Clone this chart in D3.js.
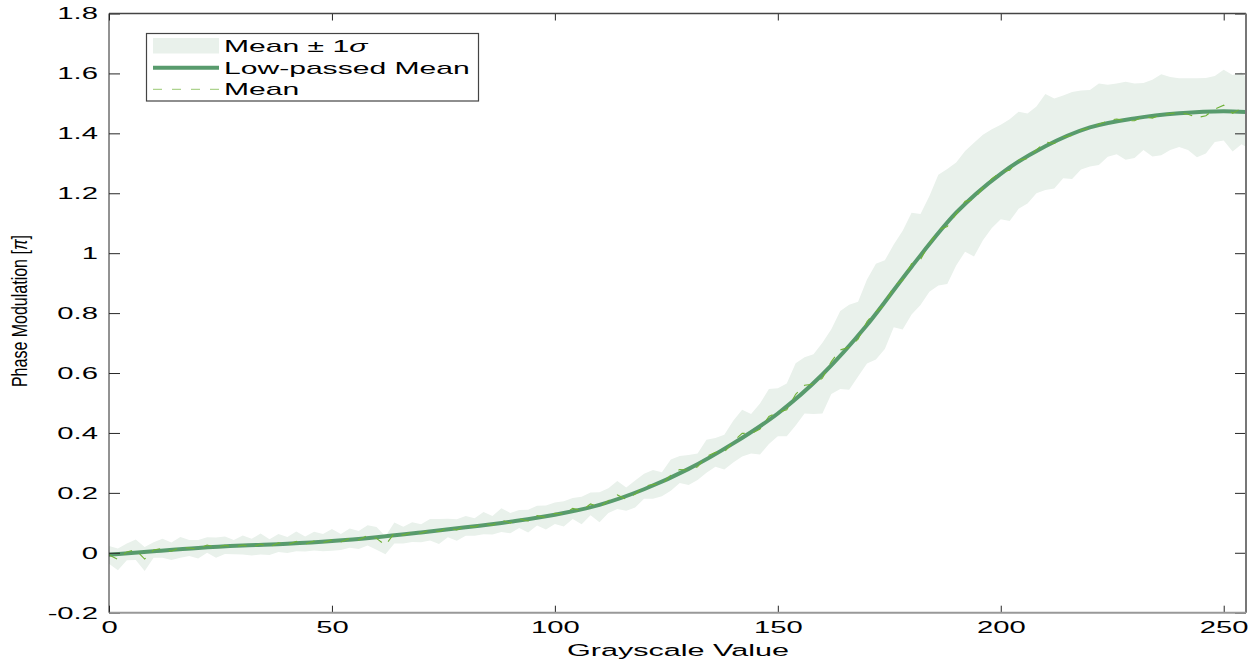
<!DOCTYPE html>
<html>
<head>
<meta charset="utf-8">
<script src="https://cdn.jsdelivr.net/npm/d3@7"></script>
<style>
  html, body { margin: 0; padding: 0; background: #fff; }
  svg { display: block; font-family: "Liberation Sans", Arial, sans-serif; }
</style>
</head>
<body>
<svg id="chart" width="1257" height="664"></svg>
<script>
// grayscale levels of the measured curve (every 2nd level, plus the last one)
const grayscale = d3.range(0, 256, 2).concat([255]);

// measured mean phase modulation, in units of pi
const meanPhase = [
  -0.007, -0.022, 0.003, 0.010, -0.021, 0.009, 0.015, 0.005, 0.018, 0.016,
  0.012, 0.026, 0.017, 0.025, 0.019, 0.026, 0.019, 0.029, 0.019, 0.033,
  0.026, 0.038, 0.029, 0.039, 0.034, 0.043, 0.036, 0.049, 0.043, 0.058,
  0.048, 0.025, 0.066, 0.059, 0.069, 0.065, 0.077, 0.071, 0.083, 0.076,
  0.090, 0.086, 0.099, 0.092, 0.109, 0.099, 0.113, 0.106, 0.124, 0.118,
  0.132, 0.130, 0.148, 0.141, 0.163, 0.152, 0.174, 0.193, 0.179, 0.196,
  0.222, 0.228, 0.229, 0.259, 0.278, 0.276, 0.287, 0.322, 0.335, 0.336,
  0.371, 0.399, 0.397, 0.413, 0.455, 0.469, 0.477, 0.529, 0.559, 0.563,
  0.583, 0.638, 0.677, 0.686, 0.713, 0.772, 0.805, 0.828, 0.891, 0.910,
  0.965, 0.979, 1.031, 1.077, 1.089, 1.131, 1.173, 1.179, 1.219, 1.249,
  1.271, 1.277, 1.310, 1.316, 1.345, 1.371, 1.366, 1.388, 1.393, 1.411,
  1.417, 1.430, 1.442, 1.448, 1.442, 1.442, 1.456, 1.451, 1.462, 1.466,
  1.469, 1.464, 1.452, 1.459, 1.481, 1.494, 1.467, 1.484,
  1.470
];

// standard deviation at each level, in units of pi
const sigmaPhase = [
  0.030, 0.036, 0.028, 0.034, 0.040, 0.026, 0.032, 0.029, 0.035, 0.027,
  0.031, 0.026, 0.034, 0.029, 0.024, 0.032, 0.028, 0.035, 0.026, 0.030,
  0.027, 0.033, 0.025, 0.031, 0.029, 0.036, 0.027, 0.032, 0.030, 0.034,
  0.038, 0.030, 0.035, 0.028, 0.033, 0.030, 0.036, 0.042, 0.031, 0.036,
  0.033, 0.029, 0.037, 0.031, 0.040, 0.034, 0.030, 0.038, 0.033, 0.040,
  0.036, 0.042, 0.035, 0.046, 0.038, 0.050, 0.041, 0.047, 0.039, 0.045,
  0.042, 0.048, 0.040, 0.052, 0.045, 0.050, 0.044, 0.055, 0.048, 0.058,
  0.070, 0.078, 0.066, 0.085, 0.092, 0.080, 0.088, 0.104, 0.094, 0.100,
  0.118, 0.108, 0.130, 0.142, 0.125, 0.140, 0.160, 0.148, 0.138, 0.165,
  0.170, 0.152, 0.160, 0.185, 0.192, 0.172, 0.168, 0.190, 0.176, 0.165,
  0.158, 0.170, 0.162, 0.150, 0.145, 0.160, 0.150, 0.138, 0.145, 0.132,
  0.128, 0.136, 0.120, 0.118, 0.130, 0.124, 0.112, 0.128, 0.135, 0.122,
  0.115, 0.120, 0.132, 0.126, 0.110, 0.118, 0.128, 0.120,
  0.115
];

// low-passed mean, read at every 10th level
const lowPassLevels = [0, 10, 20, 30, 40, 50, 60, 70, 80, 90, 100, 110, 120, 130,
  140, 150, 160, 170, 180, 190, 200, 210, 220, 230, 240, 250, 255];
const lowPassPhase = [-0.007, 0.005, 0.016, 0.024, 0.030, 0.039, 0.052, 0.068, 0.085,
  0.104, 0.127, 0.160, 0.212, 0.280, 0.365, 0.465, 0.595, 0.760, 0.955, 1.135,
  1.265, 1.357, 1.420, 1.450, 1.467, 1.474, 1.471];

const xTicks = [0, 50, 100, 150, 200, 250];
const yTicks = [-0.2, 0, 0.2, 0.4, 0.6, 0.8, 1, 1.2, 1.4, 1.6, 1.8];
const yTickLabels = ['-0.2', '0', '0.2', '0.4', '0.6', '0.8', '1', '1.2', '1.4', '1.6', '1.8'];

const legendLabels = ['Mean \u00b1 1', 'Low-passed Mean', 'Mean'];

const BAND = '#e9f1eb';
const LOWPASS = '#589b6d';
const MEAN = '#6eb136';
const AXIS = '#262626';
// the figure was stretched sideways, so text is too
const STRETCH = 1.72;

const svg = d3.select('#chart');
const plotLeft = 109;
const plotRight = 1246;
const plotTop = 13.5;
const plotBottom = 612.7;

const x = d3.scaleLinear().domain([0, 255]).range([plotLeft, plotRight]);
const y = d3.scaleLinear().domain([-0.2, 1.8]).range([plotBottom, plotTop]);

const points = grayscale.map((g, i) => ({ g, m: meanPhase[i], s: sigmaPhase[i] }));

const plot = svg.append('g');
plot.append('clipPath').attr('id', 'clip')
  .append('rect')
  .attr('x', plotLeft).attr('y', plotTop)
  .attr('width', plotRight - plotLeft).attr('height', plotBottom - plotTop);

const inner = plot.append('g').attr('clip-path', 'url(#clip)');

// mean +/- 1 sigma band
inner.append('path')
  .datum(points)
  .attr('fill', BAND)
  .attr('d', d3.area()
    .x(d => x(d.g))
    .y0(d => y(d.m - d.s))
    .y1(d => y(d.m + d.s)));

// low-passed mean
inner.append('path')
  .datum(lowPassLevels.map((g, i) => [g, lowPassPhase[i]]))
  .attr('fill', 'none')
  .attr('stroke', LOWPASS)
  .attr('stroke-width', 4)
  .attr('d', d3.line().x(d => x(d[0])).y(d => y(d[1])).curve(d3.curveMonotoneX));

// raw mean, dashed on top
inner.append('path')
  .datum(points)
  .attr('fill', 'none')
  .attr('stroke', MEAN)
  .attr('stroke-width', 1.1)
  .attr('stroke-dasharray', '9,9')
  .attr('d', d3.line().x(d => x(d.g)).y(d => y(d.m)));

// put the stretched text back where the axis placed it
function stretchTicks(g, anchor) {
  g.selectAll('.tick text').each(function () {
    const t = d3.select(this);
    const tx = +t.attr('x') || 0;
    const ty = +t.attr('y') || 0;
    t.attr('x', 0).attr('y', 0)
      .attr('text-anchor', anchor)
      .attr('transform', `translate(${tx},${ty}) scale(${STRETCH},1)`);
  });
}

function styleAxis(g) {
  g.select('.domain').remove();
  g.selectAll('.tick line').attr('stroke', AXIS);
  g.selectAll('.tick text')
    .attr('fill', '#000')
    .style('font-size', '17px')
    .style('font-family', '"Liberation Sans", Arial, sans-serif');
}

svg.append('g')
  .attr('transform', `translate(0,${plotBottom})`)
  .call(d3.axisBottom(x).tickValues(xTicks).tickSizeInner(-7).tickSizeOuter(0).tickPadding(8))
  .call(styleAxis)
  .call(g => stretchTicks(g, 'middle'));

svg.append('g')
  .attr('transform', `translate(${plotLeft},0)`)
  .call(d3.axisLeft(y).tickValues(yTicks).tickFormat((d, i) => yTickLabels[i])
    .tickSizeInner(-11).tickSizeOuter(0).tickPadding(11))
  .call(styleAxis)
  .call(g => stretchTicks(g, 'end'));

svg.append('g')
  .attr('transform', `translate(0,${plotTop})`)
  .call(d3.axisTop(x).tickValues(xTicks).tickFormat('').tickSizeInner(-7).tickSizeOuter(0))
  .call(styleAxis);

svg.append('g')
  .attr('transform', `translate(${plotRight},0)`)
  .call(d3.axisRight(y).tickValues(yTicks).tickFormat('').tickSizeInner(-11).tickSizeOuter(0))
  .call(styleAxis);

// axes box
svg.append('line').attr('x1', plotLeft).attr('x2', plotRight).attr('y1', plotTop).attr('y2', plotTop)
  .attr('stroke', '#444').attr('stroke-width', 1.5);
svg.append('line').attr('x1', plotRight).attr('x2', plotRight).attr('y1', plotTop).attr('y2', plotBottom)
  .attr('stroke', '#777').attr('stroke-width', 2);
svg.append('line').attr('x1', plotLeft).attr('x2', plotRight).attr('y1', plotBottom).attr('y2', plotBottom)
  .attr('stroke', '#999').attr('stroke-width', 2);
svg.append('line').attr('x1', plotLeft).attr('x2', plotLeft).attr('y1', plotTop).attr('y2', plotBottom)
  .attr('stroke', AXIS).attr('stroke-width', 1);

// axis titles
svg.append('text')
  .attr('transform', `translate(678,656) scale(1.8,1)`)
  .attr('text-anchor', 'middle')
  .style('font-size', '17px')
  .text('Grayscale Value');

const ylab = svg.append('text')
  .attr('transform', `translate(27,311) rotate(-90) scale(1,1.35)`)
  .attr('text-anchor', 'middle')
  .style('font-size', '16px');
ylab.append('tspan').text('Phase Modulation [');
ylab.append('tspan').attr('font-style', 'italic').text('\u03c0');
ylab.append('tspan').text(']');

// legend
const legend = svg.append('g');
legend.append('rect')
  .attr('x', 146.5).attr('y', 33.5).attr('width', 332).attr('height', 67.5)
  .attr('fill', '#fff').attr('stroke', '#444').attr('stroke-width', 1.2);

const rows = [45.8, 67.7, 89.3];
legend.append('rect')
  .attr('x', 153).attr('y', 38).attr('width', 66).attr('height', 15.5)
  .attr('fill', BAND);
legend.append('line')
  .attr('x1', 153).attr('x2', 219).attr('y1', rows[1]).attr('y2', rows[1])
  .attr('stroke', LOWPASS).attr('stroke-width', 4);
legend.append('line')
  .attr('x1', 153).attr('x2', 219).attr('y1', rows[2]).attr('y2', rows[2])
  .attr('stroke', MEAN).attr('stroke-width', 1).attr('stroke-dasharray', '9,10')
  .attr('stroke-opacity', 0.7);

legend.selectAll('text.entry')
  .data(legendLabels)
  .enter()
  .append('text')
  .attr('class', 'entry')
  .attr('transform', (d, i) => `translate(224,${rows[i] + 6}) scale(1.88,1)`)
  .style('font-size', '16px')
  .text(d => d)
  .filter((d, i) => i === 0)
  .append('tspan')
  .attr('font-style', 'italic')
  .text('\u03c3');
</script>
</body>
</html>
